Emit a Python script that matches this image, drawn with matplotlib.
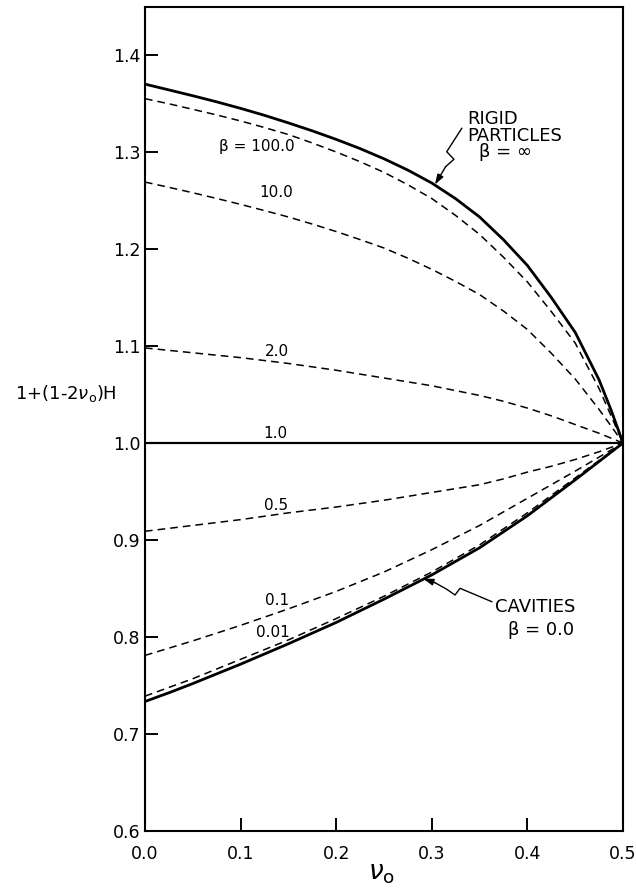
import numpy as np
import matplotlib
matplotlib.use("Agg")
import matplotlib.pyplot as plt

# Poisson's ratio of the matrix
nu0 = [0.0, 0.025, 0.05, 0.075, 0.1, 0.125, 0.15, 0.175, 0.2, 0.225, 0.25,
       0.275, 0.3, 0.325, 0.35, 0.375, 0.4, 0.425, 0.45, 0.475, 0.4875, 0.5]

# 1 + (1 - 2 nu0) H for each stiffness ratio beta
rigid = [1.370, 1.364, 1.358, 1.3517, 1.345, 1.3378, 1.330, 1.3218, 1.313, 1.3035, 1.293,
         1.2813, 1.268, 1.2518, 1.233, 1.2095, 1.183, 1.150, 1.114, 1.065, 1.034, 1.000]
beta_100 = [1.355, 1.3497, 1.344, 1.3382, 1.332, 1.3252, 1.318, 1.3093, 1.300, 1.290, 1.279,
            1.2662, 1.252, 1.2345, 1.215, 1.1915, 1.166, 1.1355, 1.103, 1.056, 1.028, 1.000]
beta_10 = [1.269, 1.2636, 1.258, 1.2521, 1.246, 1.2396, 1.233, 1.2257, 1.218, 1.2097, 1.201,
           1.1905, 1.179, 1.1665, 1.153, 1.136, 1.117, 1.0925, 1.066, 1.0345, 1.0175, 1.000]
beta_2 = [1.098, 1.0955, 1.093, 1.0905, 1.088, 1.085, 1.082, 1.0785, 1.075, 1.071, 1.067,
          1.063, 1.059, 1.054, 1.049, 1.043, 1.036, 1.028, 1.019, 1.010, 1.005, 1.000]
beta_1 = [1.000] * len(nu0)
beta_05 = [0.909, 0.912, 0.915, 0.918, 0.921, 0.9245, 0.928, 0.931, 0.934, 0.9375, 0.941,
           0.945, 0.949, 0.953, 0.957, 0.963, 0.970, 0.976, 0.983, 0.991, 0.9955, 1.000]
beta_01 = [0.781, 0.7885, 0.796, 0.804, 0.812, 0.8205, 0.829, 0.838, 0.847, 0.857, 0.867,
           0.8785, 0.890, 0.9025, 0.915, 0.929, 0.943, 0.957, 0.971, 0.9855, 0.9928, 1.000]
beta_001 = [0.739, 0.748, 0.757, 0.767, 0.777, 0.787, 0.797, 0.808, 0.819, 0.8305, 0.842,
            0.8545, 0.867, 0.881, 0.895, 0.9115, 0.928, 0.946, 0.964, 0.982, 0.991, 1.000]
cavities = [0.7335, 0.7425, 0.752, 0.762, 0.772, 0.7825, 0.793, 0.804, 0.815, 0.827, 0.839,
            0.8515, 0.864, 0.878, 0.892, 0.9085, 0.925, 0.9435, 0.962, 0.981, 0.9905, 1.000]

x_ticks = [0.0, 0.1, 0.2, 0.3, 0.4, 0.5]
x_tick_labels = ["0.0", "0.1", "0.2", "0.3", "0.4", "0.5"]
y_ticks = [0.6, 0.7, 0.8, 0.9, 1.0, 1.1, 1.2, 1.3, 1.4]
y_tick_labels = ["0.6", "0.7", "0.8", "0.9", "1.0", "1.1", "1.2", "1.3", "1.4"]

plt.rcParams["font.family"] = ["DejaVu Sans"]
plt.rcParams["mathtext.fontset"] = "dejavusans"

fig = plt.figure(figsize=(6.36, 8.92), dpi=100)
ax = fig.add_axes([0.228, 0.0684, 0.7516, 0.9243])

dash = (0, (5, 3.3))
ax.plot(nu0, rigid, color="black", lw=2.0, solid_capstyle="round", solid_joinstyle="round")
ax.plot(nu0, cavities, color="black", lw=2.0, solid_capstyle="round", solid_joinstyle="round")
ax.plot(nu0, beta_1, color="black", lw=1.6)
for series in (beta_100, beta_10, beta_2, beta_05, beta_01, beta_001):
    ax.plot(nu0, series, color="black", lw=1.1, linestyle=dash)

# curve labels
lab_kw = dict(ha="center", va="center", fontsize=11)
ax.text(0.117, 1.306, "β = 100.0", **lab_kw)
ax.text(0.137, 1.258, "10.0", **lab_kw)
ax.text(0.138, 1.094, "2.0", **lab_kw)
ax.text(0.136, 1.010, "1.0", **lab_kw)
ax.text(0.137, 0.936, "0.5", **lab_kw)
ax.text(0.138, 0.838, "0.1", **lab_kw)
ax.text(0.134, 0.805, "0.01", **lab_kw)

# limiting cases
ax.text(0.337, 1.3255, "RIGID\nPARTICLES", ha="left", va="center", fontsize=13,
        linespacing=0.95)
ax.text(0.3766, 1.2995, "β = ∞", ha="center", va="center", fontsize=13)

ax.text(0.366, 0.831, "CAVITIES", ha="left", va="center", fontsize=13)
ax.text(0.414, 0.807, "β = 0.0", ha="center", va="center", fontsize=13)

# squiggle leaders with arrowheads
rx = [0.3313, 0.3156, 0.3232, 0.3145]
ry = [1.3244, 1.3003, 1.2925, 1.2849]
ax.plot(rx, ry, color="black", lw=1.0)
ax.annotate("", xy=(0.3033, 1.2665), xytext=(rx[-1], ry[-1]),
            arrowprops=dict(arrowstyle="-|>,head_length=0.6,head_width=0.2",
                            color="black", lw=1.0, shrinkA=0, shrinkB=0))

cx = [0.3627, 0.3295, 0.3243, 0.3156, 0.3033]
cy = [0.8364, 0.8502, 0.8433, 0.8492, 0.8560]
ax.plot(cx, cy, color="black", lw=1.0)
ax.annotate("", xy=(0.2911, 0.8600), xytext=(cx[-1], cy[-1]),
            arrowprops=dict(arrowstyle="-|>,head_length=0.6,head_width=0.2",
                            color="black", lw=1.0, shrinkA=0, shrinkB=0))

ax.set_xlim(0.0, 0.5)
ax.set_ylim(0.6, 1.45)
ax.set_xticks(x_ticks)
ax.set_xticklabels(x_tick_labels)
ax.set_yticks(y_ticks)
ax.set_yticklabels(y_tick_labels)
ax.tick_params(axis="both", direction="in", length=9.5, width=1.4, labelsize=12.5)
ax.tick_params(axis="x", pad=10)
ax.tick_params(axis="y", pad=3.5)
for sp in ax.spines.values():
    sp.set_linewidth(1.5)

ax.set_ylabel(r"1+(1-2$\nu_{\rm o}$)H", rotation=0, fontsize=13, ha="center", va="center")
ax.yaxis.set_label_coords(-0.167, 0.531)
ax.set_xlabel(r"$\nu_{\rm o}$", fontsize=19, ha="center", va="center")
ax.xaxis.set_label_coords(0.494, -0.051)

fig.savefig("out.png", dpi=100)
